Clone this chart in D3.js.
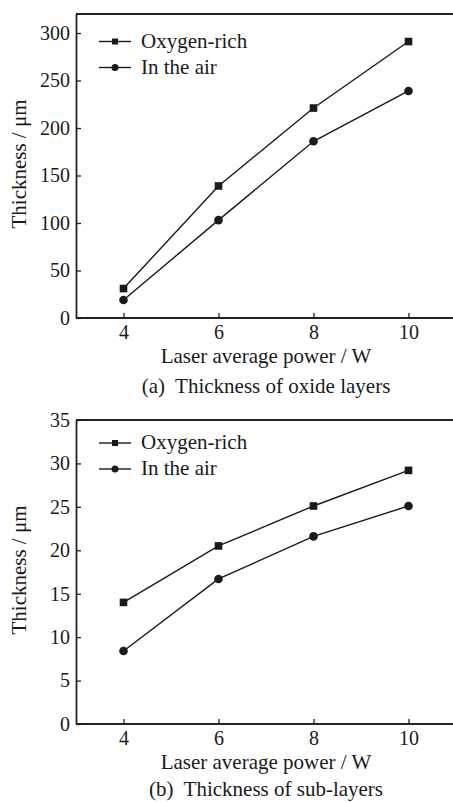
<!DOCTYPE html>
<html>
<head>
<meta charset="utf-8">
<script src="https://cdn.jsdelivr.net/npm/d3@7"></script>
<style>
  body { margin: 0; background: #fff; }
  text { font-family: "Liberation Serif", "Times New Roman", serif; fill: #1a1a1a; }
  .caption { white-space: pre; }
</style>
</head>
<body>
<div id="chart"></div>
<script>
// laser average power (W)
var power = [4, 6, 8, 10];
var seriesNames = ["Oxygen-rich", "In the air"];

// (a) thickness of oxide layers, um
var oxideRich = [31, 139, 221, 291];
var oxideAir = [19, 103, 186, 239];

// (b) thickness of sub-layers, um
var subRich = [14.0, 20.5, 25.1, 29.2];
var subAir = [8.4, 16.7, 21.6, 25.1];

var xTicks = [4, 6, 8, 10];
var yTicksA = [0, 50, 100, 150, 200, 250, 300];
var yTicksB = [0, 5, 10, 15, 20, 25, 30, 35];

var W = 453, H = 802;
var svg = d3.select("#chart").append("svg")
    .attr("width", W)
    .attr("height", H);

function panel(opt) {
    var g = svg.append("g");

    var x = d3.scaleLinear().domain([3, 11]).range([76, 456]);
    var y = d3.scaleLinear().domain(opt.yDomain).range([opt.bottom, opt.top]);

    // top border line
    g.append("line")
        .attr("x1", 76).attr("x2", W)
        .attr("y1", opt.top).attr("y2", opt.top)
        .attr("stroke", "#222").attr("stroke-width", 1.8);

    // x axis, ticks pointing inward
    var xAxis = d3.axisBottom(x).tickValues(xTicks).tickSizeInner(-5).tickSizeOuter(0).tickPadding(7);
    var gx = g.append("g")
        .attr("transform", `translate(0,${opt.bottom})`)
        .call(xAxis);
    gx.select(".domain").attr("stroke", "#222").attr("stroke-width", 1.8)
        .attr("d", `M76,0H${W}`);
    gx.selectAll(".tick line").attr("stroke", "#222").attr("stroke-width", 1.3);
    gx.selectAll("text").attr("font-size", 20).attr("fill", "#1a1a1a")
        .style("font-family", "Liberation Serif");

    // y axis
    var yAxis = d3.axisLeft(y).tickValues(opt.yTicks).tickSizeInner(-5).tickSizeOuter(0).tickPadding(6);
    var gy = g.append("g")
        .attr("transform", "translate(76,0)")
        .call(yAxis);
    gy.select(".domain").attr("stroke", "#222").attr("stroke-width", 1.8);
    gy.selectAll(".tick line").attr("stroke", "#222").attr("stroke-width", 1.3);
    gy.selectAll("text").attr("font-size", 20).attr("fill", "#1a1a1a")
        .style("font-family", "Liberation Serif");

    // axis titles
    g.append("text")
        .attr("transform", `translate(26,${(opt.top + opt.bottom) / 2 - 2}) rotate(-90)`)
        .attr("text-anchor", "middle")
        .attr("font-size", 21)
        .text("Thickness / μm");

    g.append("text")
        .attr("x", 266).attr("y", opt.bottom + 45)
        .attr("text-anchor", "middle")
        .attr("font-size", 21)
        .text("Laser average power / W");

    g.append("text")
        .attr("class", "caption")
        .attr("x", 266).attr("y", opt.bottom + opt.captionDy)
        .attr("text-anchor", "middle")
        .attr("font-size", 21)
        .text(opt.caption);

    // lines + markers
    var line = d3.line()
        .x(function(d, i) { return x(power[i]); })
        .y(function(d) { return y(d); });

    [opt.rich, opt.air].forEach(function(vals, k) {
        g.append("path")
            .attr("d", line(vals))
            .attr("fill", "none")
            .attr("stroke", "#1a1a1a")
            .attr("stroke-width", 1.4);

        var pts = g.selectAll(null).data(vals).enter();
        if (k == 0) {
            pts.append("rect")
                .attr("x", function(d, i) { return x(power[i]) - 3.8; })
                .attr("y", function(d) { return y(d) - 3.8; })
                .attr("width", 7.6).attr("height", 7.6)
                .attr("fill", "#1a1a1a");
        } else {
            pts.append("circle")
                .attr("cx", function(d, i) { return x(power[i]); })
                .attr("cy", function(d) { return y(d); })
                .attr("r", 4.3)
                .attr("fill", "#1a1a1a");
        }
    });

    // legend
    seriesNames.forEach(function(name, k) {
        var ly = opt.legendY + k * 26;
        g.append("line")
            .attr("x1", 99).attr("x2", 131)
            .attr("y1", ly).attr("y2", ly)
            .attr("stroke", "#1a1a1a").attr("stroke-width", 1.4);
        if (k == 0) {
            g.append("rect").attr("x", 112).attr("y", ly - 3)
                .attr("width", 6).attr("height", 6).attr("fill", "#1a1a1a");
        } else {
            g.append("circle").attr("cx", 115).attr("cy", ly)
                .attr("r", 3.5).attr("fill", "#1a1a1a");
        }
        g.append("text")
            .attr("x", 141).attr("y", ly + 6)
            .attr("font-size", 21)
            .text(name);
    });
}

panel({
    top: 14, bottom: 318,
    yDomain: [0, 320], yTicks: yTicksA,
    rich: oxideRich, air: oxideAir,
    legendY: 41.5,
    captionDy: 75,
    caption: "(a)  Thickness of oxide layers"
});

panel({
    top: 420, bottom: 724,
    yDomain: [0, 35], yTicks: yTicksB,
    rich: subRich, air: subAir,
    legendY: 443,
    captionDy: 72,
    caption: "(b)  Thickness of sub-layers"
});
</script>
</body>
</html>
